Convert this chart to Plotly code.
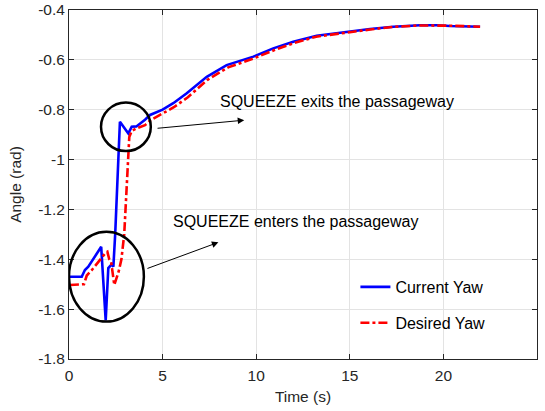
import plotly.graph_objects as go

# Current yaw (blue)
t_cur = [0.05, 0.68, 0.85, 1.03, 1.72, 1.96, 2.10, 2.28, 2.37, 2.47, 2.72, 3.17, 3.35, 3.6, 4.06,
         4.33, 5.0, 5.57, 6.29, 7.36, 8.42, 9.85, 10.91, 11.98, 13.23, 13.94, 15.01, 16.08,
         17.32, 18.75, 19.64, 20.35, 21.96]
yaw_cur = [-1.47, -1.47, -1.443, -1.43, -1.35, -1.645, -1.435, -1.42, -1.43, -1.295, -0.848,
           -0.895, -0.868, -0.867, -0.84, -0.821, -0.80, -0.774, -0.734, -0.668, -0.621,
           -0.587, -0.554, -0.527, -0.503, -0.496, -0.487, -0.476, -0.467, -0.461, -0.461,
           -0.464, -0.467]

# Desired yaw (red)
t_des = [0.05, 0.80, 0.95, 1.2, 1.95, 2.05, 2.15, 2.25, 2.42, 2.65, 2.80, 2.95, 3.22, 3.35, 3.6,
         4.06, 4.4, 5.0, 5.6, 6.35, 7.4, 8.5, 9.9, 11.0, 12.0, 13.2, 14.0, 15.0, 16.1, 17.3,
         18.75, 19.6, 20.4, 21.96]
yaw_des = [-1.503, -1.50, -1.465, -1.445, -1.375, -1.37, -1.40, -1.41, -1.503, -1.45, -1.40,
           -1.30, -0.91, -0.885, -0.875, -0.862, -0.84, -0.815, -0.79, -0.75, -0.68, -0.63,
           -0.593, -0.56, -0.533, -0.507, -0.498, -0.489, -0.478, -0.468, -0.462, -0.461,
           -0.463, -0.467]

x_ticks = [0, 5, 10, 15, 20, 25]
y_ticks = [-1.8, -1.6, -1.4, -1.2, -1.0, -0.8, -0.6, -0.4]
y_ticktext = ["-1.8", "-1.6", "-1.4", "-1.2", "-1", "-0.8", "-0.6", "-0.4"]

FONT = "Liberation Sans, Arial, sans-serif"
TXT = "#262626"

fig = go.Figure()
fig.add_trace(go.Scatter(x=t_cur, y=yaw_cur, mode="lines", name="Current Yaw",
                         legendgroup="a",
                         line=dict(color="#0000ff", width=2.6)))
fig.add_trace(go.Scatter(x=t_des, y=yaw_des, mode="lines", name="Desired Yaw",
                         legendgroup="b",
                         line=dict(color="#ff0000", width=2.6, dash="dashdot")))

# ellipses
fig.add_shape(type="circle", xref="x", yref="y", x0=1.71, x1=4.37, y0=-0.966, y1=-0.771,
              line=dict(color="black", width=2.5))
fig.add_shape(type="circle", xref="x", yref="y", x0=0.0, x1=4.0, y0=-1.65, y1=-1.29,
              line=dict(color="black", width=2.5))

# arrows
fig.add_annotation(x=9.36, y=-0.842, ax=4.65, ay=-0.875, xref="x", yref="y",
                   axref="x", ayref="y", showarrow=True, arrowhead=2, arrowsize=1.3,
                   arrowwidth=1, arrowcolor="black", text="")
fig.add_annotation(x=7.98, y=-1.332, ax=4.11, ay=-1.439, xref="x", yref="y",
                   axref="x", ayref="y", showarrow=True, arrowhead=2, arrowsize=1.3,
                   arrowwidth=1, arrowcolor="black", text="")
# texts
fig.add_annotation(x=7.96, y=-0.769, xref="x", yref="y", text="SQUEEZE exits the passageway",
                   showarrow=False, xanchor="left", yanchor="middle",
                   font=dict(family=FONT, size=16, color="black"))
fig.add_annotation(x=5.43, y=-1.249, xref="x", yref="y", text="SQUEEZE enters the passageway",
                   showarrow=False, xanchor="left", yanchor="middle",
                   font=dict(family=FONT, size=16, color="black"))

axis_common = dict(showgrid=True, gridcolor="#e3e3e3", gridwidth=1, zeroline=False,
                   showline=True, linecolor=TXT, linewidth=1, mirror="ticks",
                   ticks="inside", ticklen=5, tickcolor=TXT, automargin=False,
                   tickfont=dict(family=FONT, size=15.5, color=TXT))

fig.update_xaxes(range=[0, 25], tickvals=x_ticks, ticklabelstandoff=2,
                 title=dict(text="Time (s)", font=dict(family=FONT, size=15.5, color=TXT), standoff=8),
                 **axis_common)
fig.update_yaxes(range=[-1.8, -0.4], tickvals=y_ticks, ticktext=y_ticktext,
                 title=dict(text="Angle (rad)", font=dict(family=FONT, size=15.5, color=TXT), standoff=12),
                 **axis_common)

fig.update_layout(
    width=545, height=411,
    margin=dict(l=69, r=8, t=10, b=52),
    plot_bgcolor="white", paper_bgcolor="white",
    font=dict(family=FONT, size=15.5, color=TXT),
    legend=dict(x=0.612, y=0.255, xanchor="left", yanchor="top",
                bgcolor="rgba(255,255,255,0)", borderwidth=0,
                tracegroupgap=12, font=dict(family=FONT, size=16, color="black")),
)

fig.write_html("out.html")
